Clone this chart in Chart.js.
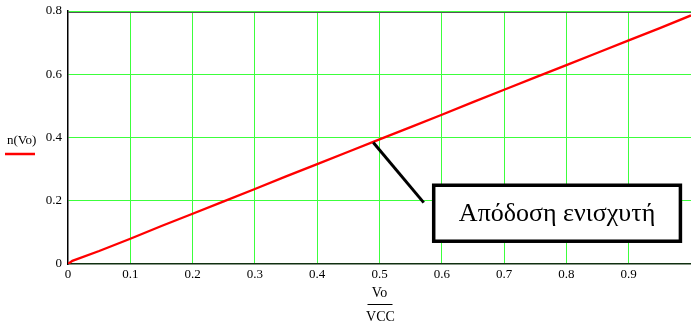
<!DOCTYPE html>
<html>
<head>
<meta charset="utf-8">
<script src="https://cdn.jsdelivr.net/npm/chart.js@4/dist/chart.umd.min.js"></script>
<style>
  html, body { margin: 0; padding: 0; background: #ffffff; }
  #c { display: block; }
</style>
</head>
<body>
<canvas id="c" width="691" height="327"></canvas>
<script>
// Output swing ratio Vo/VCC and amplifier efficiency n(Vo)
const ratio = [0, 0.007, 0.05, 0.1, 0.15, 0.2, 0.25, 0.3, 0.35, 0.4, 0.45, 0.5,
               0.55, 0.6, 0.65, 0.7, 0.75, 0.8, 0.85, 0.9, 0.95, 1.0];
const efficiency = [0, 0.010, 0.041, 0.080, 0.120, 0.159, 0.198, 0.237, 0.277, 0.316, 0.355, 0.394,
                    0.433, 0.472, 0.512, 0.551, 0.590, 0.629, 0.668, 0.707, 0.746, 0.786];
const xTicks = [0, 0.1, 0.2, 0.3, 0.4, 0.5, 0.6, 0.7, 0.8, 0.9, 1];
const yTicks = [0, 0.2, 0.4, 0.6, 0.8];
const seriesLabel = 'n(Vo)';
const xTitleTop = 'Vo';
const xTitleBottom = 'VCC';
const noteText = 'Απόδοση ενισχυτή';

const SERIF = '"Liberation Serif", "Times New Roman", serif';
const GRID = '#3cff3c';

// Legend entry, fraction-style x title and the callout box
const decorations = {
  id: 'decorations',
  afterDraw(chart) {
    const ctx = chart.ctx;
    const xs = chart.scales.x, ys = chart.scales.y;
    const area = chart.chartArea;
    ctx.save();

    // frame line along the top of the plot
    ctx.strokeStyle = '#555555';
    ctx.lineWidth = 1;
    ctx.beginPath();
    ctx.moveTo(area.left, area.top + 1.5);
    ctx.lineTo(area.right, area.top + 1.5);
    ctx.stroke();

    // legend
    ctx.fillStyle = '#000';
    ctx.font = '13px ' + SERIF;
    ctx.textAlign = 'left';
    ctx.textBaseline = 'middle';
    ctx.fillText(seriesLabel, 7, 141);
    ctx.strokeStyle = '#ff0000';
    ctx.lineWidth = 2.5;
    ctx.beginPath();
    ctx.moveTo(5, 154);
    ctx.lineTo(35, 154);
    ctx.stroke();

    // x axis title as a fraction
    const cx = xs.getPixelForValue(0.5);
    ctx.font = '14px ' + SERIF;
    ctx.textAlign = 'center';
    ctx.fillStyle = '#000';
    ctx.fillText(xTitleTop, cx, 293);
    ctx.fillText(xTitleBottom, cx + 1, 317);
    ctx.strokeStyle = '#000';
    ctx.lineWidth = 1;
    ctx.beginPath();
    ctx.moveTo(cx - 12, 304.5);
    ctx.lineTo(cx + 13, 304.5);
    ctx.stroke();

    // callout pointer
    ctx.lineWidth = 3;
    ctx.beginPath();
    ctx.moveTo(xs.getPixelForValue(0.49), ys.getPixelForValue(0.384));
    ctx.lineTo(xs.getPixelForValue(0.571), ys.getPixelForValue(0.194));
    ctx.stroke();

    // callout box
    const bx0 = xs.getPixelForValue(0.587), bx1 = xs.getPixelForValue(0.983);
    const by0 = ys.getPixelForValue(0.249), by1 = ys.getPixelForValue(0.072);
    ctx.fillStyle = '#ffffff';
    ctx.fillRect(bx0, by0, bx1 - bx0, by1 - by0);
    ctx.lineWidth = 3.5;
    ctx.strokeRect(bx0, by0, bx1 - bx0, by1 - by0);
    ctx.fillStyle = '#000';
    ctx.font = '26px ' + SERIF;
    ctx.textAlign = 'center';
    ctx.textBaseline = 'alphabetic';
    ctx.fillText(noteText, (bx0 + bx1) / 2, by0 + 36);

    ctx.restore();
  }
};

new Chart(document.getElementById('c'), {
  type: 'line',
  data: {
    datasets: [{
      label: seriesLabel,
      data: ratio.map((v, i) => ({ x: v, y: efficiency[i] })),
      borderColor: '#ff0000',
      borderWidth: 2.3,
      pointRadius: 0,
      tension: 0,
      fill: false
    }]
  },
  options: {
    responsive: false,
    devicePixelRatio: 1,
    animation: false,
    layout: { padding: { top: 11, right: 0, left: 0, bottom: 0 } },
    plugins: { legend: { display: false }, tooltip: { enabled: false } },
    scales: {
      x: {
        type: 'linear',
        min: 0, max: 1,
        afterBuildTicks: s => { s.ticks = xTicks.map(v => ({ value: v })); },
        afterFit: s => { s.height = 63; s.paddingLeft = 0; s.paddingRight = 0; },
        ticks: {
          color: '#000',
          font: { family: SERIF, size: 13 },
          padding: 3,
          maxRotation: 0,
          callback: v => (v === 1 ? '' : String(Math.round(v * 10) / 10))
        },
        grid: {
          color: c => (c.tick && (c.tick.value === 0 || c.tick.value === 1) ? 'rgba(0,0,0,0)' : GRID),
          lineWidth: 1,
          drawTicks: false,
          tickLength: 0
        },
        border: { display: true, color: '#103010', width: 1.5 }
      },
      y: {
        type: 'linear',
        min: 0, max: 0.8,
        afterBuildTicks: s => { s.ticks = yTicks.map(v => ({ value: v })); },
        afterFit: s => { s.width = 68; s.paddingTop = 0; s.paddingBottom = 0; },
        ticks: {
          color: '#000',
          font: { family: SERIF, size: 13 },
          padding: 6,
          callback: v => String(Math.round(v * 10) / 10)
        },
        grid: {
          color: c => (c.tick && c.tick.value === 0 ? 'rgba(0,0,0,0)' : GRID),
          lineWidth: 1,
          drawTicks: false,
          tickLength: 0
        },
        border: { display: true, color: '#000', width: 1.5 }
      }
    }
  },
  plugins: [decorations]
});
</script>
</body>
</html>
